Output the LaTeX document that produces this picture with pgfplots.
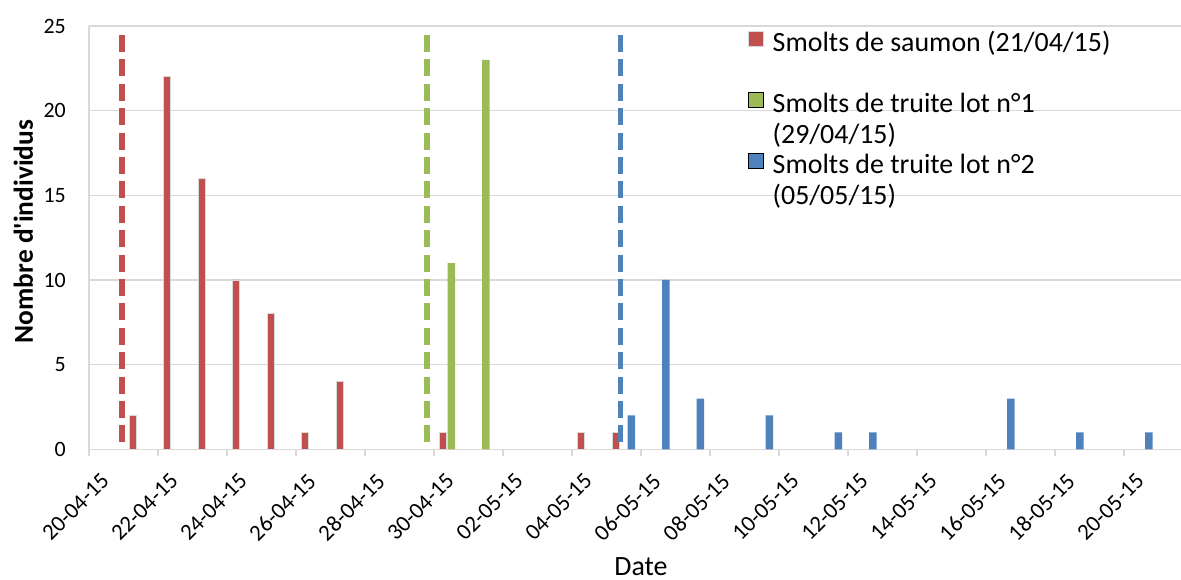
\documentclass[border=0pt]{standalone}
\usepackage{fontspec}
\setmainfont{Carlito}
\usepackage{graphicx}
\usepackage{pgfplots}
\pgfplotsset{compat=1.18}
\definecolor{cRed}{HTML}{C0504D}
\definecolor{cGreen}{HTML}{9BBB59}
\definecolor{cBlue}{HTML}{4F81BD}
\definecolor{cGrid}{HTML}{D9D9D9}
\newcommand\rl[1]{\rotatebox{45}{#1}}
\begin{document}
\begin{tikzpicture}
\path[use as bounding box] (-89bp,-130.7bp) rectangle (1092bp,449.3bp);
\begin{axis}[
  at={(0,0)}, anchor=south west,
  scale only axis, width=1092bp, height=423.3bp,
  xmin=-0.5, xmax=31.152, ymin=0, ymax=25,
  axis x line*=bottom, axis y line*=left,
  axis line style={draw=cGrid, line width=1.3bp, -},
  ytick={0,5,10,15,20,25},
  ymajorgrids, major grid style={draw=cGrid, line width=1.2bp},
  ytick style={draw=none},
  xtick={-0.5,1.5,3.5,5.5,7.5,9.5,11.5,13.5,15.5,17.5,19.5,21.5,23.5,25.5,27.5,29.5},
  xticklabels={\rl{20-04-15},\rl{22-04-15},\rl{24-04-15},\rl{26-04-15},\rl{28-04-15},\rl{30-04-15},\rl{02-05-15},\rl{04-05-15},\rl{06-05-15},\rl{08-05-15},\rl{10-05-15},\rl{12-05-15},\rl{14-05-15},\rl{16-05-15},\rl{18-05-15},\rl{20-05-15}},
  xtick style={draw=cGrid, line width=1.3bp},
  tick align=outside, major tick length=7bp,
  /pgf/number format/assume math mode=true,
  yticklabel style={font=\fontsize{22}{26}\selectfont, inner sep=0pt, xshift=-16bp},
  xticklabel style={font=\fontsize{23}{27}\selectfont, anchor=north east, inner sep=0pt, xshift=21.7bp, yshift=-15.4bp},
  xlabel={Date},
  every axis x label/.style={at={(axis description cs:0.5055,0)}, yshift=-126.5bp, anchor=base, inner sep=0pt, font=\fontsize{28}{32}\selectfont},
  ylabel={Nombre d\textquotesingle individus},
  every axis y label/.style={at={(axis description cs:-0.05128,0.5145)}, rotate=90, anchor=base, inner sep=0pt, font=\fontsize{27.5}{30}\selectfont\bfseries},
  legend style={at={(axis description cs:0.6035,0.9913)}, anchor=north west, draw=none, fill=none,
    inner sep=0pt, row sep=0pt, column sep=8.7bp,
    nodes={inner sep=0pt, text height=22bp, text depth=8.5bp},
    font=\fontsize{28}{30.5}\selectfont},
  legend cell align=left,
  legend image code/.code={\draw[#1] (0bp,-1bp) rectangle (15bp,14bp);},
]
\addplot[ybar, bar width=7bp, bar shift=-8bp, fill=cRed, draw=cGrid, line width=0.8bp] coordinates {
(1,2) (2,22) (3,16) (4,10) (5,8) (6,1) (7,4) (10,1) (14,1) (15,1)};
\addlegendentry{Smolts de saumon (21/04/15)}
\addlegendimage{empty legend}
\addlegendentry{}
\addplot[ybar, bar width=7.5bp, bar shift=0bp, fill=cGreen, draw=none] coordinates {
(10,11) (11,23)};
\addlegendentry{Smolts de truite lot n°1}
\addlegendimage{empty legend}
\addlegendentry{(29/04/15)}
\addplot[ybar, bar width=7.5bp, bar shift=7.5bp, fill=cBlue, draw=none] coordinates {
(15,2) (16,10) (17,3) (19,2) (21,1) (22,1) (26,3) (28,1) (30,1)};
\addlegendentry{Smolts de truite lot n°2}
\addlegendimage{empty legend}
\addlegendentry{(05/05/15)}
\addplot[forget plot, cRed, line width=5.5bp, dash pattern=on 17bp off 7.4bp] coordinates {(0.45,24.47) (0.45,0)};
\addplot[forget plot, cGreen, line width=5.5bp, dash pattern=on 17bp off 7.4bp] coordinates {(9.29,24.47) (9.29,0)};
\addplot[forget plot, cBlue, line width=5.5bp, dash pattern=on 17bp off 7.4bp] coordinates {(14.91,24.47) (14.91,0)};
\end{axis}
\end{tikzpicture}
\end{document}
